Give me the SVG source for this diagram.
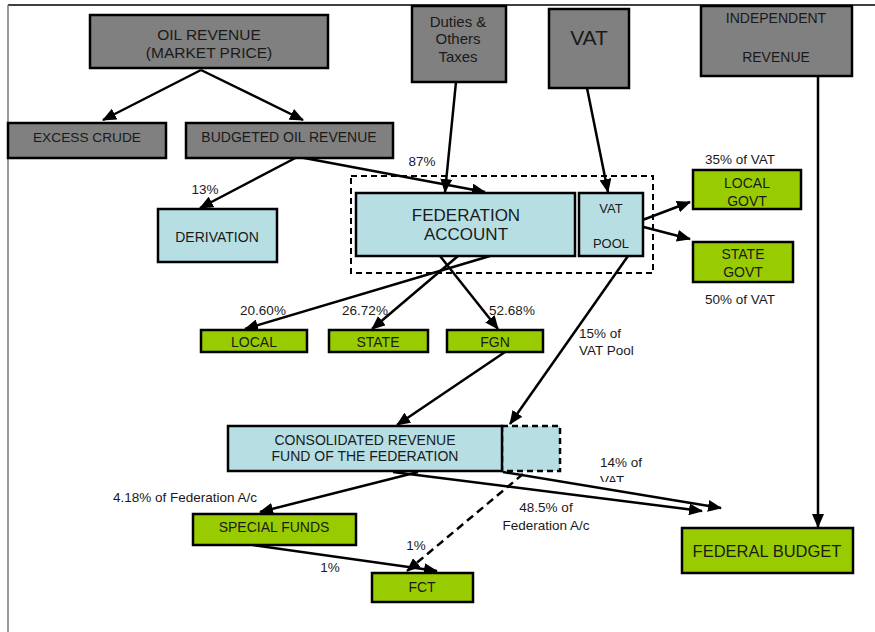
<svg xmlns="http://www.w3.org/2000/svg" width="875" height="632" viewBox="0 0 875 632">
<defs>
<marker id="ah" markerUnits="userSpaceOnUse" markerWidth="14" markerHeight="12" refX="13" refY="6" orient="auto">
<path d="M0,0 L14,6 L0,12 z" fill="#000"/>
</marker>
<clipPath id="vatclip"><rect x="590" y="440" width="80" height="42"/></clipPath>
</defs>
<style>
text{font-family:"Liberation Sans",Arial,sans-serif;fill:#1a1a1a;text-anchor:middle;dominant-baseline:central}
.gray{fill:#808080;stroke:#000;stroke-width:2.5}
.blue{fill:#b7dfe3;stroke:#000;stroke-width:2.5}
.green{fill:#99cc00;stroke:#000;stroke-width:2.5}
.c{fill:none;stroke:#000;stroke-width:2.5;marker-end:url(#ah)}
.lbl{font-size:13.5px}
.l{text-anchor:start}
</style>
<rect width="875" height="632" fill="#fff"/>
<line x1="8" y1="5" x2="875" y2="5" stroke="#000" stroke-width="1.5"/>
<line x1="8" y1="5" x2="8" y2="632" stroke="#777" stroke-width="1.5"/>

<g id="connectors">
<line class="c" x1="201" y1="70" x2="103" y2="120"/>
<line class="c" x1="201" y1="70" x2="303" y2="120"/>
<line class="c" x1="303" y1="154" x2="200" y2="208"/>
<line class="c" x1="283" y1="154" x2="485" y2="192"/>
<line class="c" x1="456" y1="82" x2="445" y2="192"/>
<line class="c" x1="587" y1="88" x2="608" y2="192"/>
<line class="c" x1="632" y1="224" x2="690" y2="202"/>
<line class="c" x1="632" y1="224" x2="690" y2="239"/>
<line class="c" x1="490" y1="256" x2="245" y2="329"/>
<line class="c" x1="458" y1="256" x2="372" y2="329"/>
<line class="c" x1="440" y1="256" x2="498" y2="329"/>
<line class="c" x1="505" y1="352" x2="397" y2="425"/>
<line class="c" x1="628" y1="256" x2="510" y2="424"/>
<line class="c" x1="818" y1="76" x2="818" y2="527"/>
<line class="c" x1="418" y1="472" x2="260" y2="512"/>
<line class="c" x1="253" y1="545" x2="437" y2="571"/>
<line class="c" x1="523" y1="474" x2="407" y2="571" stroke-dasharray="8,5"/>
<line class="c" x1="393" y1="472" x2="702" y2="511"/>
<line class="c" x1="503" y1="472" x2="721" y2="508"/>
</g>

<g id="oil-revenue"><rect class="gray" x="90" y="15" width="238" height="53"/><text x="209" y="34" font-size="15.5">OIL REVENUE</text><text x="209" y="52" font-size="15.5">(MARKET PRICE)</text></g>
<g id="excess-crude"><rect class="gray" x="8" y="123" width="158" height="35"/><text x="87" y="137" font-size="13.7">EXCESS CRUDE</text></g>
<g id="budgeted-oil"><rect class="gray" x="186" y="123" width="207" height="35"/><text x="289" y="137" font-size="14">BUDGETED OIL REVENUE</text></g>
<g id="duties"><rect class="gray" x="412" y="6" width="94" height="76"/><text x="458" y="21" font-size="15">Duties &amp;</text><text x="458" y="38" font-size="15">Others</text><text x="458" y="56" font-size="15">Taxes</text></g>
<g id="vat"><rect class="gray" x="549" y="9" width="80" height="79"/><text x="589" y="37" font-size="21">VAT</text></g>
<g id="independent"><rect class="gray" x="701" y="6" width="151" height="70"/><text x="776" y="18" font-size="14">INDEPENDENT</text><text x="776" y="57" font-size="14">REVENUE</text></g>

<rect x="351" y="176" width="302" height="97" fill="none" stroke="#000" stroke-width="2" stroke-dasharray="6,4"/>
<g id="derivation"><rect class="blue" x="158" y="209" width="119" height="53"/><text x="217" y="237" font-size="14">DERIVATION</text></g>
<g id="federation-account"><rect class="blue" x="356" y="193" width="219" height="63"/><text x="466" y="215" font-size="17">FEDERATION</text><text x="466" y="234" font-size="17">ACCOUNT</text></g>
<g id="vat-pool"><rect class="blue" x="579" y="193" width="64" height="63"/><text x="611" y="208" font-size="13">VAT</text><text x="611" y="243" font-size="13">POOL</text></g>
<g id="local-govt"><rect class="green" x="693" y="170" width="108" height="39"/><text x="747" y="183" font-size="14">LOCAL</text><text x="747" y="201" font-size="14">GOVT</text></g>
<g id="state-govt"><rect class="green" x="693" y="242" width="100" height="40"/><text x="743" y="254" font-size="14">STATE</text><text x="743" y="272" font-size="14">GOVT</text></g>
<g id="local"><rect class="green" x="201" y="330" width="106" height="22"/><text x="254" y="342" font-size="14">LOCAL</text></g>
<g id="state"><rect class="green" x="329" y="330" width="99" height="22"/><text x="378" y="342" font-size="14">STATE</text></g>
<g id="fgn"><rect class="green" x="447" y="330" width="96" height="22"/><text x="495" y="342" font-size="14">FGN</text></g>
<g id="crf"><rect class="blue" x="502" y="426" width="58" height="45" stroke="#000" stroke-width="2.5" stroke-dasharray="6,4"/><rect class="blue" x="228" y="426" width="274" height="45"/><text x="365" y="440" font-size="14">CONSOLIDATED REVENUE</text><text x="365" y="456" font-size="14">FUND OF THE FEDERATION</text></g>
<g id="special-funds"><rect class="green" x="193" y="514" width="163" height="31"/><text x="274" y="527" font-size="14">SPECIAL FUNDS</text></g>
<g id="fct"><rect class="green" x="372" y="573" width="101" height="29"/><text x="422" y="587" font-size="14">FCT</text></g>
<g id="federal-budget"><rect class="green" x="682" y="528" width="171" height="45"/><text x="767" y="551" font-size="16.5">FEDERAL BUDGET</text></g>

<g id="labels">
<text class="lbl" x="422" y="161">87%</text>
<text class="lbl" x="205" y="189">13%</text>
<text class="lbl" x="740" y="159">35% of VAT</text>
<text class="lbl" x="740" y="299">50% of VAT</text>
<text class="lbl" x="263" y="310">20.60%</text>
<text class="lbl" x="365" y="310">26.72%</text>
<text class="lbl" x="512" y="310">52.68%</text>
<text class="lbl l" x="579" y="333">15% of</text>
<text class="lbl l" x="579" y="350">VAT Pool</text>
<text class="lbl l" x="600" y="462">14% of</text>
<text class="lbl l" x="600" y="480" clip-path="url(#vatclip)">VAT</text>
<text class="lbl" x="546" y="507">48.5% of</text>
<text class="lbl" x="546" y="525">Federation A/c</text>
<text class="lbl" x="185" y="497">4.18% of Federation A/c</text>
<text class="lbl" x="416" y="545">1%</text>
<text class="lbl" x="330" y="567">1%</text>
</g>
</svg>
